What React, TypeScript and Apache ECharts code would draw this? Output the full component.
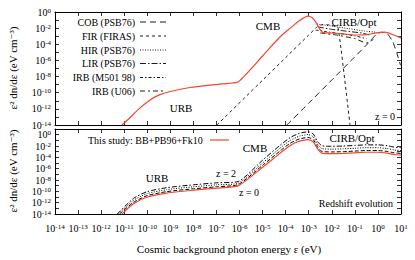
import { useEffect, useRef } from "react";
import * as echarts from "echarts";

const FONT = "'Liberation Serif', 'DejaVu Serif', serif";
const RED = "#f4452d";

// All values are log10 of energy (eV) and log10 of eps^2 dn/deps (eV cm^-3)
// ---- Top panel (z = 0) ----
const modelTop: number[][] = [
  [-11.1, -14], [-10.75, -13.1], [-10.4, -12.1], [-9.88, -10.9], [-9.5, -10.3], [-9.0, -9.85],
  [-8.15, -9.35], [-7.28, -9.05], [-6.5, -8.85], [-6.05, -8.65], [-5.0, -5.45], [-4.25, -3.1],
  [-3.8, -2.0], [-3.4, -1.05], [-3.03, -0.5], [-2.85, -0.7], [-2.71, -1.2], [-2.5, -2.2],
  [-2.38, -2.55], [-2.0, -2.6], [-1.5, -2.7], [-1.0, -2.85], [-0.5, -2.8], [0.0, -2.55],
  [0.3, -2.5], [0.6, -2.75], [1.0, -3.2],
];
const cobPSB76: number[][] = [
  [-3.95, -14], [-3, -11.3], [-2, -8.42], [-1, -5.55], [-0.5, -4.1], [-0.1, -2.85],
  [0.15, -2.5], [0.4, -2.65], [0.65, -3.7], [0.82, -5.1], [0.98, -6.6],
];
const firFIRAS: number[][] = [
  [-6.98, -14], [-5, -8.45], [-4, -5.65], [-3, -2.85], [-2.64, -1.85], [-2.4, -1.55],
  [-2.1, -1.6], [-1.73, -1.9], [-1.21, -14],
];
const hirPSB76: number[][] = [[-2.64, -1.5], [-2.0, -1.75], [-1.3, -2.05], [-0.6, -2.35], [-0.1, -2.5]];
const lirPSB76: number[][] = [[-2.6, -1.85], [-2.0, -2.15], [-1.3, -2.4], [-0.7, -2.6], [-0.3, -2.9]];
const irbM50198: number[][] = [[-2.7, -2.25], [-2.2, -2.45], [-1.6, -2.7], [-1.0, -2.95], [-0.5, -3.3]];
const irbU06: number[][] = [[-2.5, -2.6], [-1.8, -2.85], [-1.0, -3.3], [-0.5, -3.85], [-0.2, -3.4]];

// ---- Bottom panel (redshift evolution) ----
const modelZ0: number[][] = [
  [-11.1, -14], [-10.6, -12.2], [-10.0, -11.0], [-9.15, -10.3], [-8.0, -9.8], [-7.0, -9.45],
  [-6.05, -9.0], [-5.0, -5.75], [-4.25, -3.3], [-3.8, -1.9], [-3.4, -1.15], [-3.03, -0.88],
  [-2.8, -1.3], [-2.6, -2.6], [-2.43, -3.25], [-2.0, -3.35], [-1.5, -3.3], [-1.0, -3.2],
  [-0.5, -3.1], [0.0, -3.1], [0.4, -3.25], [0.7, -3.5], [1.0, -3.6],
];
const modelZlow: number[][] = [
  [-11.2, -14], [-10.6, -11.95], [-10.0, -10.75], [-9.15, -10.05], [-8.0, -9.55], [-7.0, -9.2],
  [-6.05, -8.8], [-5.0, -5.4], [-4.25, -2.9], [-3.8, -1.5], [-3.4, -0.75], [-3.03, -0.48],
  [-2.8, -0.9], [-2.6, -2.25], [-2.43, -2.95], [-2.0, -3.05], [-1.5, -3.0], [-1.0, -2.9],
  [-0.5, -2.8], [0.0, -2.8], [0.4, -2.95], [0.7, -3.2], [1.0, -3.3],
];
const modelZmid: number[][] = [
  [-11.25, -14], [-10.6, -11.6], [-10.0, -10.4], [-9.15, -9.7], [-8.0, -9.2], [-7.0, -8.85],
  [-6.05, -8.55], [-5.0, -5.0], [-4.25, -2.4], [-3.8, -1.0], [-3.4, -0.25], [-3.03, 0.02],
  [-2.8, -0.4], [-2.6, -1.8], [-2.43, -2.45], [-2.0, -2.55], [-1.5, -2.5], [-1.0, -2.4],
  [-0.5, -2.3], [0.0, -2.3], [0.4, -2.45], [0.7, -2.7], [1.0, -2.8],
];
const modelZ2: number[][] = [
  [-11.3, -14], [-10.6, -11.25], [-10.0, -10.05], [-9.15, -9.35], [-8.0, -8.85], [-7.0, -8.5],
  [-6.05, -8.25], [-5.0, -4.5], [-4.25, -1.9], [-3.8, -0.5], [-3.4, 0.25], [-3.03, 0.5],
  [-2.8, 0.1], [-2.6, -1.3], [-2.43, -1.95], [-2.0, -2.05], [-1.5, -2.0], [-1.0, -1.9],
  [-0.5, -1.8], [0.0, -1.8], [0.4, -1.95], [0.7, -2.2], [1.0, -2.3],
];

const topLegend = [
  { name: "COB (PSB76)", dash: [6, 4], data: cobPSB76 },
  { name: "FIR (FIRAS)", dash: [3, 3], data: firFIRAS },
  { name: "HIR (PSB76)", dash: [1, 1.5], data: hirPSB76 },
  { name: "LIR (PSB76)", dash: [6, 2, 1.5, 2], data: lirPSB76 },
  { name: "IRB (M501 98)", dash: [3, 2, 1.5, 2], data: irbM50198 },
  { name: "IRB (U06)", dash: [5, 3, 2, 3], data: irbU06 },
];
const legendY = [22, 36, 50, 63.5, 77.5, 91];

const expLabel = (v: number) => {
  const e = Math.round(v);
  return e % 2 === 0 ? `{b|10}{s|${e}}` : "";
};
const expLabelAll = (v: number) => `{b|10}{s|${Math.round(v)}}`;
const rich = {
  b: { fontSize: 10, fontFamily: FONT, color: "#000", lineHeight: 10 },
  s: { fontSize: 7, fontFamily: FONT, color: "#000", verticalAlign: "top" as const, lineHeight: 4 },
};

const axisCommon = {
  type: "value" as const,
  axisLine: { show: true, onZero: false, lineStyle: { color: "#000", width: 1 } },
  axisTick: { show: true, inside: true, length: 4, lineStyle: { color: "#000", width: 0.8 } },
  splitLine: { show: false },
};

const xAx = (grid: number, pos: "top" | "bottom", labels: boolean) => ({
  ...axisCommon,
  gridIndex: grid,
  position: pos,
  min: -14,
  max: 1,
  interval: 1,
  axisLabel: labels
    ? { show: true, formatter: expLabelAll, rich, margin: 9, showMinLabel: true, showMaxLabel: true }
    : { show: false },
});
const yAx = (grid: number, pos: "left" | "right", max: number, labels: boolean) => ({
  ...axisCommon,
  gridIndex: grid,
  position: pos,
  min: -14,
  max,
  interval: 1,
  axisLabel: labels
    ? { show: true, formatter: expLabel, rich, margin: 4, showMinLabel: true, showMaxLabel: true }
    : { show: false },
});

const line = (data: number[][], grid: number, color: string, width: number, dash: any, z = 2, smooth = 0.2) => ({
  type: "line" as const,
  xAxisIndex: grid === 0 ? 0 : 2,
  yAxisIndex: grid === 0 ? 0 : 2,
  data,
  symbol: "none",
  showSymbol: false,
  smooth,
  silent: true,
  clip: true,
  z,
  lineStyle: { color, width, type: dash },
});

const txt = (text: string, x: number, y: number, size = 11, align = "center") => ({
  type: "text",
  x,
  y,
  silent: true,
  style: { text, fontSize: size, fontFamily: FONT, fill: "#000", align, verticalAlign: "middle" },
});

export default function App() {
  const ref = useRef<HTMLDivElement>(null);
  useEffect(() => {
    const chart = echarts.init(ref.current!, null, { renderer: "svg" });
    const graphic: any[] = [
      {
        type: "text", x: 13, y: 68, rotation: Math.PI / 2, silent: true,
        style: { text: "ε² dn/dε (eV cm⁻³)", fontSize: 11, fontFamily: FONT, fill: "#000", align: "center", verticalAlign: "middle" },
      },
      {
        type: "text", x: 13, y: 171, rotation: Math.PI / 2, silent: true,
        style: { text: "ε² dn/dε (eV cm⁻³)", fontSize: 11, fontFamily: FONT, fill: "#000", align: "center", verticalAlign: "middle" },
      },
      txt("Cosmic background photon energy ε (eV)", 229, 249, 11),
      txt("URB", 181, 108, 11),
      txt("CMB", 268, 26, 11),
      txt("CIRB/Opt", 354, 22, 11),
      txt("z = 0", 385, 116, 10),
      txt("This study: BB+PB96+Fk10", 88, 140, 10, "left"),
      { type: "line", silent: true, shape: { x1: 210, y1: 140, x2: 229, y2: 140 }, style: { stroke: RED, lineWidth: 1.2 } },
      txt("CMB", 255, 148, 11),
      txt("URB", 157, 178, 11),
      txt("z = 2", 226, 173, 10),
      txt("z = 0", 249, 192, 10),
      txt("CIRB/Opt", 352, 138, 11),
      txt("Redshift evolution", 393, 203, 10, "right"),
    ];
    topLegend.forEach((l, i) => {
      graphic.push(txt(l.name, 135, legendY[i], 10, "right"));
      graphic.push({
        type: "line", silent: true,
        shape: { x1: 140, y1: legendY[i], x2: 166, y2: legendY[i] },
        style: { stroke: "#000", lineWidth: 0.9, lineDash: l.dash },
      });
    });

    chart.setOption({
      animation: false,
      backgroundColor: "#fff",
      textStyle: { fontFamily: FONT },
      grid: [
        { left: 55, top: 12, width: 346, height: 113 },
        { left: 55, top: 129, width: 346, height: 85 },
      ],
      xAxis: [xAx(0, "bottom", false), xAx(0, "top", false), xAx(1, "bottom", true), xAx(1, "top", false)],
      yAxis: [yAx(0, "left", 0, true), yAx(0, "right", 0, false), yAx(1, "left", 1, true), yAx(1, "right", 1, false)],
      series: [
        ...topLegend.map((l) => line(l.data, 0, "#000", 0.9, l.dash, 2, 0.1)),
        line(modelTop, 0, RED, 1.2, "solid", 3),
        line(modelZlow, 1, "#000", 1, [4, 2], 2),
        line(modelZmid, 1, "#000", 1, [1, 1.5], 2),
        line(modelZ2, 1, "#000", 1, [5, 2, 1.5, 2], 2),
        line(modelZ0, 1, RED, 1.2, "solid", 3),
      ],
      graphic,
    });
    return () => chart.dispose();
  }, []);
  return <div ref={ref} style={{ position: "absolute", left: 0, top: 0, width: 415, height: 260 }} />;
}
